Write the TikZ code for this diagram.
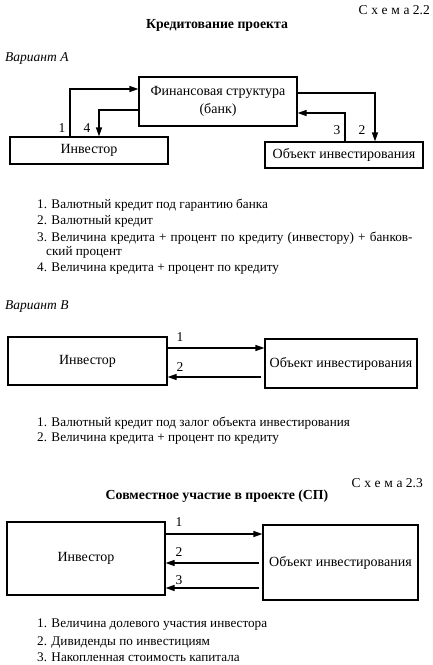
\documentclass[tikz,border=0pt]{standalone}
\usepackage{fontspec}
\setmainfont{Liberation Serif}
\usetikzlibrary{arrows.meta,calc}
\begin{document}
\begin{tikzpicture}[x=1pt,y=-1pt,
  box/.style={draw,line width=1.2pt,rectangle,inner sep=0pt,font=\fontsize{14}{18}\selectfont},
  arr/.style={line width=1.2pt,-{Triangle[length=9pt,width=6pt]}},
  lbl/.style={font=\fontsize{13.5}{15}\selectfont,inner sep=0pt},
  item/.style={anchor=base west,inner sep=0pt,font=\fontsize{13.2}{15}\selectfont},
  head/.style={inner sep=0pt,font=\fontsize{13.8}{16}\selectfont\bfseries},
  schema/.style={anchor=east,inner sep=0pt,font=\fontsize{13.5}{15}\selectfont},
  var/.style={anchor=west,inner sep=0pt,font=\fontsize{13.5}{15}\selectfont\itshape}]
\useasboundingbox (0,0) rectangle (433,665);
% Schema 2.2
\node[schema] (s22) at (430,10) {{\addfontfeatures{LetterSpace=28}Схема} 2.2};
\node[head] (t22) at (217,25) {Кредитование проекта};
\node[var] (va) at (5,58) {Вариант А};
\node[box,minimum width=158pt,minimum height=49pt,align=center] (bank) at (218,101.5) {Финансовая структура\\(банк)};
\node[box,minimum width=158pt,minimum height=27pt] (invA) at (89,150.5) {Инвестор};
\node[box,minimum width=158pt,minimum height=26pt] (objA) at (344,155) {Объект инвестирования};
\coordinate (a1) at (70,89);
\coordinate (a4) at (99,110);
\coordinate (a2) at (375,93);
\coordinate (a3) at (345,113);
\draw[arr] (a1 |- invA.north) -- (a1) -- (a1 -| bank.west);
\draw[arr] (a4 -| bank.west) -- (a4) -- (a4 |- invA.north);
\draw[arr] (a2 -| bank.east) -- (a2) -- (a2 |- objA.north);
\draw[arr] (a3 |- objA.north) -- (a3) -- (a3 -| bank.east);
\node[lbl] (l1) at (62,128) {1};
\node[lbl] (l4) at (87,128) {4};
\node[lbl] (l3) at (337,130) {3};
\node[lbl] (l2) at (362,130) {2};
\node[item] (ia1) at (37,208) {1. Валютный кредит под гарантию банка};
\node[item] (ia2) at (37,224) {2. Валютный кредит};
\node[item] (ia3) at (37,241) {3. \makebox[361pt][s]{Величина кредита + процент по кредиту (инвестору) + банков-}};
\node[item] (ia3b) at (46,255) {ский процент};
\node[item] (ia4) at (37,271) {4. Величина кредита + процент по кредиту};
% Variant B
\node[var] (vb) at (5,307) {Вариант В};
\node[box,minimum width=159pt,minimum height=48pt] (invB) at (87.5,361) {Инвестор};
\node[box,minimum width=152pt,minimum height=49pt] (objB) at (341,363.5) {Объект инвестирования};
\coordinate (b1) at (216,348);
\coordinate (b2) at (216,377);
\draw[arr] (b1 -| invB.east) -- (b1 -| objB.west);
\draw[arr,shorten <=3pt] (b2 -| objB.west) -- (b2 -| invB.east);
\node[lbl] (lb1) at (180,337) {1};
\node[lbl] (lb2) at (180,367) {2};
\node[item] (ib1) at (37,426) {1. Валютный кредит под залог объекта инвестирования};
\node[item] (ib2) at (37,441) {2. Величина кредита + процент по кредиту};
% Schema 2.3
\node[schema] (s23) at (423,483) {{\addfontfeatures{LetterSpace=28}Схема} 2.3};
\node[head] (t23) at (217,496) {Совместное участие в проекте (СП)};
\node[box,minimum width=158pt,minimum height=73pt] (invC) at (86,558.5) {Инвестор};
\node[box,minimum width=155pt,minimum height=75pt] (objC) at (340.5,562.5) {Объект инвестирования};
\coordinate (c1) at (214,534);
\coordinate (c2) at (214,563);
\coordinate (c3) at (214,588);
\draw[arr] (c1 -| invC.east) -- (c1 -| objC.west);
\draw[arr,shorten <=3pt] (c2 -| objC.west) -- (c2 -| invC.east);
\draw[arr,shorten <=3pt] (c3 -| objC.west) -- (c3 -| invC.east);
\node[lbl] (lc1) at (179,522) {1};
\node[lbl] (lc2) at (179,552) {2};
\node[lbl] (lc3) at (179,580) {3};
\node[item] (ic1) at (37,627) {1. Величина долевого участия инвестора};
\node[item] (ic2) at (37,645) {2. Дивиденды по инвестициям};
\node[item] (ic3) at (37,661) {3. Накопленная стоимость капитала};
\end{tikzpicture}
\end{document}
